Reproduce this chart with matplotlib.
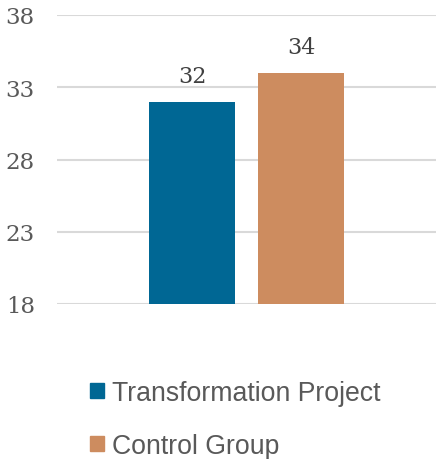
import matplotlib.pyplot as plt
from matplotlib.patches import Patch

series = ['Transformation Project', 'Control Group']
values = [32, 34]
colors = ['#006794', '#CD8C5F']
yticks = [18, 23, 28, 33, 38]

fig = plt.figure(figsize=(4.36, 4.60), dpi=100)
ax = fig.add_axes([57/436, 1 - 305/460, 1 - 57/436, (305 - 16)/460])

bw = 0.227
offs = [-0.1438, 0.1438]
for off, v, c in zip(offs, values, colors):
    ax.bar(off, v - 18, bottom=18, width=bw, color=c, zorder=3)
    ax.text(off, v + 1.0, str(v), ha='center', va='bottom',
            fontsize=16, family='DejaVu Serif', color='#404040')

ax.set_xlim(-0.5, 0.5)
ax.set_ylim(18, 38)
ax.set_yticks(yticks)
ax.set_xticks([])
ax.grid(axis='y', color='#D9D9D9', linewidth=1.5, zorder=0)
for s in ax.spines.values():
    s.set_visible(False)
ax.tick_params(axis='y', length=0, pad=16, labelsize=16.5, labelcolor='#595959')
for lab in ax.get_yticklabels():
    lab.set_family('DejaVu Serif')

handles = [Patch(color=c, label=s) for s, c in zip(series, colors)]
fig.legend(handles=handles, loc='upper left', bbox_to_anchor=(77/436, 1 - 368/460),
           frameon=False, handlelength=0.5, handleheight=0.5,
           handletextpad=0.3, labelspacing=1.0, borderpad=0, labelcolor='#595959',
           prop={'family': 'Liberation Sans', 'size': 19.2})

fig.savefig('out.png', dpi=100)
